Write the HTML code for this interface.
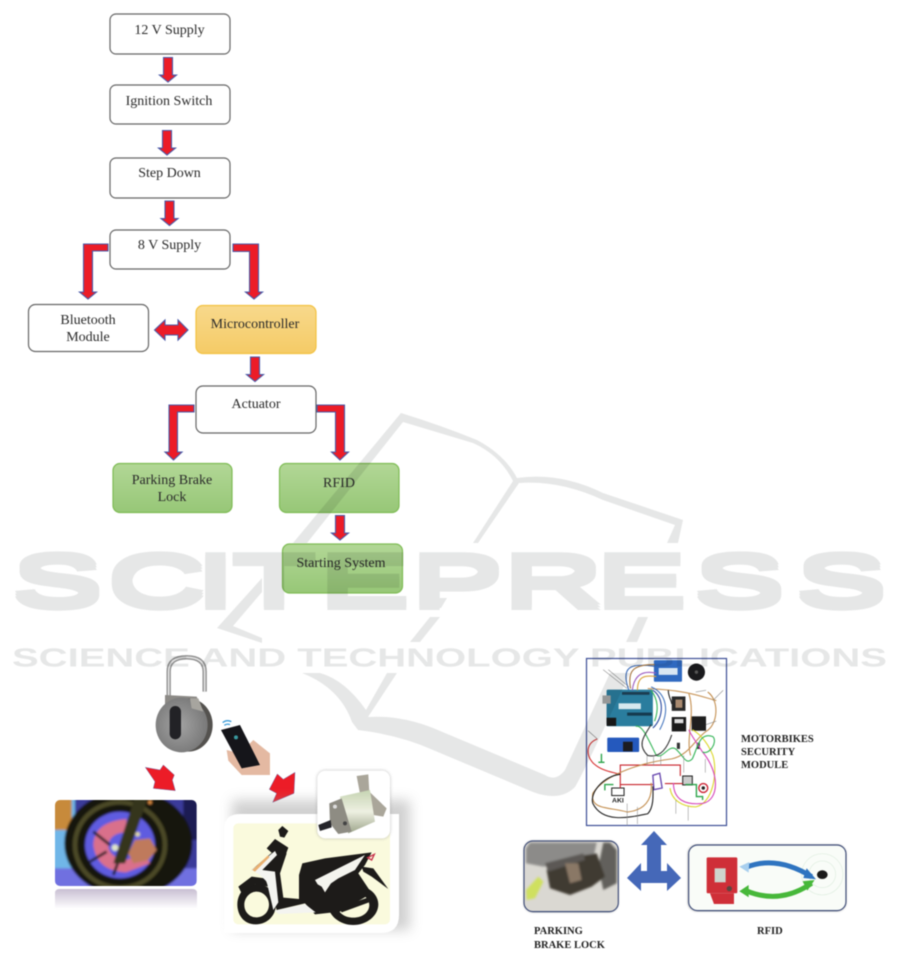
<!DOCTYPE html>
<html><head><meta charset="utf-8"><style>
html,body{margin:0;padding:0;background:#fff}
svg{display:block;filter:blur(.4px)}
.t{font-family:"Liberation Serif",serif;font-size:14px;fill:#2a2a2a;text-anchor:middle}
.b{font-family:"Liberation Serif",serif;font-size:10.5px;font-weight:bold;fill:#222}
.a{fill:#ec1c27;stroke:#4a5aa8;stroke-width:1.1}
.w{fill:none;stroke-width:3.2}
.wm{font-family:"Liberation Sans",sans-serif;font-weight:bold;fill:#e6e7e7}
</style></head><body>
<svg xmlns="http://www.w3.org/2000/svg" width="901" height="959" viewBox="0 0 901 959">
<defs>
<linearGradient id="og" x1="0" y1="0" x2="0" y2="1"><stop offset="0" stop-color="#f8d98c"/><stop offset="1" stop-color="#f5cb66"/></linearGradient>
<linearGradient id="gg" x1="0" y1="0" x2="0" y2="1"><stop offset="0" stop-color="#b2d796"/><stop offset="1" stop-color="#97c777"/></linearGradient>
<linearGradient id="ref" x1="0" y1="0" x2="0" y2="1"><stop offset="0" stop-color="#b6a9c4"/><stop offset="1" stop-color="#fff"/></linearGradient>
<radialGradient id="lk" cx=".45" cy=".5" r=".6"><stop offset="0" stop-color="#a3a3a3"/><stop offset="1" stop-color="#757575"/></radialGradient>
<linearGradient id="cyl" x1="0" y1="0" x2="0" y2="1"><stop offset="0" stop-color="#c6d4b2"/><stop offset=".5" stop-color="#eef0e2"/><stop offset="1" stop-color="#9da58b"/></linearGradient>
<filter id="sh" x="-15%" y="-15%" width="130%" height="130%"><feGaussianBlur stdDeviation="6"/></filter>
<filter id="s1"><feGaussianBlur stdDeviation="1"/></filter>
<filter id="s2"><feGaussianBlur stdDeviation="3"/></filter>
<filter id="s3"><feGaussianBlur stdDeviation="5"/></filter>
<clipPath id="wc"><rect x="15" y="15" width="425" height="258" rx="15"/></clipPath>
</defs>

<!-- flowchart boxes -->
<g stroke="#666" stroke-width="1.2" fill="#fff">
<rect x="110" y="14" width="120" height="40" rx="6"/>
<rect x="110" y="85" width="120" height="39" rx="6"/>
<rect x="110" y="158" width="120" height="40" rx="6"/>
<rect x="110" y="230" width="120" height="39" rx="6"/>
<rect x="28.500" y="304.500" width="120" height="47" rx="7"/>
<rect x="196" y="386" width="120" height="47" rx="7"/>
</g>
<rect x="196" y="305.500" width="120" height="48" rx="7" fill="url(#og)" stroke="#f3c242" stroke-width="1.200"/>
<g fill="url(#gg)" stroke="#7fbc55" stroke-width="1.200">
<rect x="113" y="463.500" width="119" height="49" rx="7"/>
<rect x="279.500" y="463.500" width="119.500" height="49" rx="7"/>
<rect x="282.500" y="544" width="120" height="49" rx="7"/>
</g>

<!-- arrows -->
<polygon class="a" points="163.500,57.500 172.500,57.500 172.500,75 176.500,75 168,82 159.500,75 163.500,75"/>
<polygon class="a" points="162.500,130.500 171.500,130.500 171.500,148 175.500,148 167,155 158.500,148 162.500,148"/>
<polygon class="a" points="165,201 174,201 174,218.500 178,218.500 169.500,225.500 161,218.500 165,218.500"/>
<polygon class="a" points="250.500,357 259.500,357 259.500,374.500 263.500,374.500 255,381.500 246.500,374.500 250.500,374.500"/>
<polygon class="a" points="335.500,515.500 344.500,515.500 344.500,533 348.500,533 340,540 331.500,533 335.500,533"/>
<polygon class="a" points="108,244 83.500,244 83.500,292 79.500,292 88,299 96.500,292 92.500,292 92.500,251 108,251"/>
<polygon class="a" points="233,244 258.500,244 258.500,292 262.500,292 254,299 245.500,292 249.500,292 249.500,251.500 233,251.500"/>
<polygon class="a" points="194,405 169,405 169,452 165,452 173.500,460 182,452 177.500,452 177.500,412 194,412"/>
<polygon class="a" points="317,405 344.500,405 344.500,452 348.500,452 340,460 331.500,452 335.500,452 335.500,412 317,412"/>
<polygon class="a" points="154.500,330 165,320 165,325 178,325 178,320 188,330 178,340 178,335 165,335 165,340"/>

<!-- flowchart text -->
<g class="t">
<text x="169.500" y="34">12 V Supply</text>
<text x="169" y="105">Ignition Switch</text>
<text x="169.500" y="177">Step Down</text>
<text x="169.500" y="249">8 V Supply</text>
<text x="88" y="324">Bluetooth</text>
<text x="88" y="341">Module</text>
<text x="255" y="328">Microcontroller</text>
<text x="256" y="408">Actuator</text>
<text x="172" y="484">Parking Brake</text>
<text x="172" y="501">Lock</text>
<text x="339" y="487">RFID</text>
<text x="341" y="567">Starting System</text>
</g>

<!-- padlock, phone, red arrows -->
<g transform="translate(40,640) scale(.3333)">
<path d="M386,175 V95 Q386,52 440,52 Q494,52 494,95 V155" fill="none" stroke="#8f8f8f" stroke-width="13"/>
<path d="M386,175 V95 Q386,52 440,52 Q494,52 494,95 V155" fill="none" stroke="#e2e2e2" stroke-width="5"/>
<path d="M375,165 L470,170 L490,215 L375,200 Z" fill="#8c8a86"/>
<ellipse cx="445" cy="255" rx="73" ry="80" fill="#54524f"/>
<ellipse cx="425" cy="255" rx="78" ry="82" fill="url(#lk)"/>
<rect x="389" y="198" width="34" height="100" rx="17" fill="#222226"/>
<path d="M450,175 H475 L490,215 L455,205 Z" fill="#a7a59f"/>
<path d="M548,248 q12,-10 26,-3 M553,256 q8,-6 17,-2" fill="none" stroke="#3a9bd8" stroke-width="4"/>
<path d="M640,300 L690,340 V405 H605 L565,362 L560,330 L600,340 Z" fill="#e4b9a2"/>
<polygon points="543,270 600,255 660,375 605,385" fill="#15151a"/>
<circle cx="588" cy="292" r="6" fill="#3a9aa0"/>
<polygon class="a" points="316,382 360,390 370,375 403,405 397,420 406,452 340,445 345,425" stroke-width="3"/>
<polygon class="a" points="765,397 762,460 698,487 710,460 688,448 712,402 730,418" stroke-width="3"/>
</g>

<!-- brake disc photo -->
<g transform="translate(50,795) scale(.3333)">
<g clip-path="url(#wc)">
<g filter="url(#s2)">
<rect x="5" y="5" width="445" height="278" fill="#3a3a9a"/>
<rect x="5" y="5" width="70" height="278" fill="#6fb6e8"/>
<rect x="5" y="5" width="60" height="100" fill="#c78a3a"/>
<rect x="5" y="220" width="445" height="63" fill="#6f6fe0"/>
<rect x="400" y="5" width="50" height="130" fill="#1d1b52"/>
<ellipse cx="235" cy="145" rx="192" ry="160" fill="#16140f"/>
<ellipse cx="210" cy="150" rx="135" ry="128" fill="none" stroke="#4c4a26" stroke-width="14"/>
<ellipse cx="210" cy="150" rx="105" ry="100" fill="#5e5ce0"/>
<path d="M230,72 Q132,80 130,150 Q140,228 228,232 L300,205 L285,180 L225,195 Q175,185 175,150 Q180,115 225,112 Z" fill="#d96f8b"/>
<path d="M130,110 L180,150 M120,200 L170,170 M190,240 L205,200" stroke="#1a1a1a" stroke-width="8"/>
<path d="M255,5 H295 L225,205 H190 Z" fill="#34341f"/>
<path d="M235,175 L255,135 L300,130 L320,165 L295,195 L250,205 Z" fill="#bf7a5c"/>
<circle cx="195" cy="158" r="10" fill="#dfe6c8"/><circle cx="263" cy="118" r="7" fill="#dfd9a8"/><circle cx="300" cy="22" r="6" fill="#d98a40"/>
</g>
</g>
</g>
<path d="M60,889 H192 Q197,889 197,893 V909 H55 V893 Q55,889 60,889Z" fill="url(#ref)" opacity=".75"/>

<!-- motorbike card -->
<path d="M232,800 H410 V930 H232 Z" fill="#999" opacity=".45" filter="url(#sh)"/>
<path d="M240,814 H399 V915 Q399,933 381,933 H224 V830 Q224,814 240,814 Z" fill="#fff"/>
<g transform="translate(225,815) scale(.3333)">
<rect x="25" y="25" width="470" height="303" rx="15" fill="#fafadd"/>
<g fill="#1d1b19">
<path d="M95,208 C135,208 153,238 153,268 C153,298 130,328 92,328 C55,328 37,298 37,268 C37,238 58,208 95,208 Z M95,230 C75,230 58,248 58,270 C58,292 75,307 93,307 C115,307 132,292 132,268 C132,248 115,230 95,230 Z" fill-rule="evenodd"/>
<path d="M385,210 C430,210 460,238 460,268 C460,302 425,330 385,330 C345,330 310,302 310,270 C310,240 345,210 385,210 Z M385,232 C358,232 337,250 337,270 C337,292 358,308 385,308 C412,308 433,292 433,270 C433,250 412,232 385,232 Z" fill-rule="evenodd"/>
<path d="M342,278 L428,248 L432,262 L350,292 Z"/>
<path d="M160,45 L172,33 L190,48 L178,68 L165,65 Z"/>
<path d="M150,72 L190,98 L180,125 L150,122 L125,100 Z"/>
<path d="M80,165 L150,105 L185,115 L165,175 L175,248 L222,252 L222,180 L232,145 L300,130 L440,112 L420,150 L400,175 L440,235 L345,290 L270,298 L240,265 L155,285 L130,200 L115,170 Z"/>
<path d="M410,155 L445,160 L490,222 L440,185 L415,170 Z"/>
<path d="M40,215 L80,185 L120,190 L130,215 L90,208 L50,235 Z"/>
</g>
<path d="M80,165 L150,108 L156,120 L112,165 L150,170 L160,262 L145,285 L125,200 L105,180 Z" fill="#f4f4f0"/>
<path d="M82,165 L128,122 L134,126 L90,170 Z" fill="#eab070"/>
<path d="M148,287 L240,267 L272,292 L162,297 Z" fill="#f4f4f0"/>
<path d="M270,195 L420,120 L390,165 L340,190 L318,205 L300,232 L290,215 L278,208 Z" fill="#f4f4ee"/>
<path d="M428,128 L448,118 L440,135 Z" fill="none" stroke="#c8324c" stroke-width="4"/>
</g>

<!-- starter motor tile -->
<g transform="translate(40,640) scale(.3333)">
<rect x="832" y="392" width="218" height="203" rx="24" fill="#888" opacity=".55" filter="url(#s3)"/>
<rect x="832" y="392" width="218" height="203" rx="24" fill="#fff"/>
<path d="M950,408 L985,403 L988,455 L1040,505 L1030,530 L1000,525 L960,460 Z" fill="#aaa69a"/>
<polygon points="900,470 990,450 1005,545 925,580" fill="url(#cyl)"/>
<path d="M868,490 L905,475 L935,575 L895,582 L870,550 Z" fill="#8e8c83"/>
<path d="M835,555 L872,540 L875,562 L840,573 Z" fill="#25252a"/>
<circle cx="885" cy="500" r="6" fill="#ddd"/><circle cx="915" cy="550" r="6" fill="#444"/>
</g>

<!-- right module frame -->
<rect x="586.500" y="658.500" width="140" height="167" fill="#fff" stroke="#3d4f96" stroke-width="1.200"/>
<g transform="translate(586,656) scale(.3429)">
<rect x="60" y="98" width="135" height="107" rx="4" fill="#2a7d9e"/>
<rect x="48" y="115" width="24" height="24" fill="#a8a8a8"/>
<rect x="60" y="180" width="28" height="24" fill="#181818"/>
<rect x="95" y="138" width="65" height="17" fill="#d6e8ee"/>
<rect x="120" y="165" width="72" height="9" fill="#153a4e"/>
<rect x="105" y="105" width="80" height="8" fill="#1b3c50"/>
<rect x="198" y="12" width="82" height="63" rx="3" fill="#2f69c0"/>
<rect x="212" y="35" width="55" height="20" fill="#d9e6f2"/>
<circle cx="322" cy="47" r="25" fill="#1a1a1d"/><circle cx="322" cy="47" r="5" fill="#555"/>
<rect x="62" y="238" width="93" height="42" rx="3" fill="#2559bd"/>
<rect x="108" y="250" width="28" height="28" fill="#1c1c22"/>
<rect x="250" y="118" width="40" height="42" fill="#2a2a2a"/><rect x="261" y="127" width="20" height="24" fill="#a98a70"/>
<rect x="250" y="178" width="42" height="42" fill="#1b1b1b"/><rect x="258" y="184" width="26" height="12" fill="#dedede"/>
<rect x="308" y="176" width="42" height="42" fill="#1e1e1e"/>
<rect x="265" y="253" width="9" height="18" fill="#333"/><rect x="323" y="253" width="9" height="18" fill="#333"/>
<rect x="75" y="385" width="36" height="22" fill="#fff" stroke="#222" stroke-width="3"/>
<rect x="282" y="350" width="28" height="26" fill="#ccc" stroke="#222" stroke-width="3"/>
<path d="M195,348 L215,342 L222,385 L198,390 Z" fill="#fff" stroke="#6a4ab0" stroke-width="4"/>
<circle cx="342" cy="385" r="13" fill="#fff" stroke="#c23" stroke-width="4"/><circle cx="342" cy="385" r="5" fill="#222"/>
<text x="76" y="427" font-family="Liberation Sans,sans-serif" font-weight="bold" font-size="20" fill="#222">AKI</text>
<g class="w">
<path d="M33,242 C-5,255 0,300 30,320 C50,335 80,340 100,345" stroke="#d63131"/>
<path d="M100,385 V318 H275 V350" stroke="#c8242c"/>
<path d="M100,375 H195 M230,372 H282" stroke="#c8242c"/>
<path d="M355,105 C390,130 385,200 350,220 C320,240 300,290 250,300 C170,310 60,340 20,400 C10,450 70,440 120,455 C170,450 195,420 190,370" stroke="#c49052"/>
<path d="M380,130 C340,120 300,100 180,95" stroke="#c9975c"/>
<path d="M300,110 C320,170 290,240 305,290" stroke="#c49052"/>
<path d="M100,345 C50,350 10,400 20,430 C50,490 130,470 180,460 C200,440 195,395 195,380" stroke="#222"/>
<path d="M245,385 C250,420 280,440 320,440 C370,430 385,340 370,290 C350,240 320,220 310,215" stroke="#dcd82c"/>
<path d="M255,370 C255,420 290,435 340,430 C390,420 390,340 340,280 C320,250 300,220 300,215" stroke="#d545b9"/>
<path d="M145,205 C165,200 180,240 205,290 C225,300 240,260 260,270 C285,290 290,320 310,300 C325,270 330,220 370,235 C385,250 360,290 340,280" stroke="#35b558"/>
<path d="M45,285 V310 M36,310 H54 M80,375 H55 V392 M290,375 H322 V410 H340 V420" stroke="#2da44a" stroke-width="4"/>
<path d="M190,200 C165,240 150,260 180,290 C220,300 240,260 250,230" stroke="#333"/>
<path d="M125,100 C100,30 130,20 200,30" stroke="#3a6ab8"/>
<path d="M130,95 C120,40 140,25 200,25" stroke="#a5743c"/>
<path d="M135,100 C140,60 160,40 205,50" stroke="#9a5ac0"/>
<path d="M150,100 C150,60 170,55 205,60" stroke="#d9a440"/>
<path d="M190,100 C205,120 215,150 200,190" stroke="#35b558"/>
<path d="M195,100 C228,120 228,180 195,210" stroke="#2a4aa0"/>
<path d="M190,90 C235,110 245,160 215,215" stroke="#4a7ac0"/>
<path d="M240,100 C240,120 250,130 250,140" stroke="#222"/>
<path d="M50,40 L120,95 M65,40 L125,90 M400,100 L370,130 M350,100 L320,105 M6,218 L33,242 M380,190 L350,200" stroke="#777" stroke-width="1.500"/>
<path d="M178,290 V320 M197,290 V320 M218,290 V320 M285,290 V340 M348,300 V340 M120,430 V495 M150,440 V490 M262,420 V460 M298,438 V480" stroke="#888" stroke-width="1.500"/>
</g>
</g>

<!-- blue four-way arrow -->
<polygon points="654,831 667,845 661,845 661,871 667,871 667,863 681,878 667,891 667,883 641,883 641,891 627,878 641,863 641,871 647,871 647,845 641,845" fill="#4568b8"/>

<!-- parking brake photo -->
<rect x="524" y="841" width="94" height="71" rx="9" fill="#555" opacity=".6" filter="url(#s1)"/>
<g transform="translate(510,650) scale(.3333)">
<rect x="42" y="573" width="283" height="212" rx="27" fill="#dad8d2" stroke="#3f4d78" stroke-width="3.500"/>
<g filter="url(#s2)">
<path d="M60,578 H260 L250,625 L160,640 L100,650 L48,640 L48,595 Z" fill="#8c8b89"/>
<path d="M280,578 H300 L320,600 V700 L280,720 L265,650 Z" fill="#62605c"/>
<path d="M110,660 L165,625 L260,610 L285,680 L245,710 L180,735 L120,715 Z" fill="#403a33"/>
<path d="M105,640 L220,610 L225,630 L115,665 Z" fill="#5c5955"/>
<path d="M165,640 L205,640 L215,690 L180,700 Z" fill="#8a7866"/>
<path d="M48,720 L85,680 L100,695 L75,745 L50,750 Z" fill="#cfe05e"/>
</g>
</g>

<!-- RFID photo -->
<rect x="688" y="845" width="158" height="66" rx="9" fill="#555" opacity=".6" filter="url(#s1)"/>
<g transform="translate(510,650) scale(.3333)">
<rect x="536" y="585" width="472" height="197" rx="27" fill="#f9fcf8" stroke="#3f4d78" stroke-width="3.500"/>
<g fill="none" stroke="#dfeee0" stroke-width="2">
<circle cx="937" cy="673" r="40"/><circle cx="937" cy="673" r="62"/>
</g>
<rect x="590" y="622" width="92" height="108" rx="4" fill="#cf2f38"/>
<polygon points="600,730 672,730 672,762 612,762" fill="#cf2f38"/>
<rect x="614" y="655" width="33" height="42" fill="#cfd4cd"/>
<circle cx="658" cy="716" r="8" fill="#5b4640"/>
<path d="M708,652 Q800,615 905,680" fill="none" stroke="#2f74c0" stroke-width="15"/>
<polygon points="688,650 718,636 716,668" fill="#a8cfee"/>
<polygon points="918,688 890,655 880,684" fill="#2f74c0"/>
<path d="M708,722 Q810,765 905,700" fill="none" stroke="#47b83a" stroke-width="15"/>
<polygon points="688,724 716,705 716,742" fill="#47b83a"/>
<polygon points="914,690 878,694 892,722" fill="#47b83a"/>
<ellipse cx="937" cy="674" rx="16" ry="13" fill="#1a1a1a"/>
</g>

<!-- right labels -->
<g class="b">
<text x="741" y="742">MOTORBIKES</text>
<text x="741" y="755">SECURITY</text>
<text x="741" y="768">MODULE</text>
<text x="534" y="934">PARKING</text>
<text x="534" y="948">BRAKE LOCK</text>
<text x="757" y="934">RFID</text>
</g>

<!-- watermark -->
<g style="mix-blend-mode:multiply">
<g fill="#e6e7e7">
<path d="M401,413 Q440,425 477,440 Q505,455 517,478 Q560,472 603,493 L683,520 L678,543 L667,543 L675,525 L603,500 Q560,480 519,483 L478,543 L473,543 L513,481 Q500,455 473,443 L403,422 L307,543 L293,543 Z"/>
<path d="M262,578 L217,628 L262,643 L262,638 L233,626 L262,592 Z"/>
<path d="M447,598 L437,598 L433,608 L441,608 Z"/>
<path d="M430,617 L440,617 L420,642 L410,642 Z"/>
<path d="M638,617 L648,617 L637,642 L626,642 Z"/>
<path d="M302,673 Q340,688 352,722 L358,730 Q400,735 433,750 L533,792 Q560,802 575,787 Q585,770 630,673 L610,673 L565,770 Q556,782 545,775 L433,728 Q400,715 368,717 L397,673 L387,673 L366,710 Q345,680 320,673 Z"/>
</g>
<g class="wm" font-size="76" transform="scale(1.85,1)">
<text x="5.95 57.3 105.9 124.9 171.9 221.6 271.4 321.6 374.6 429.7" y="610">SCITEPRESS</text>
<text x="5.95 57.3 105.9 124.9 171.9 221.6 271.4 321.6 374.6 429.7" y="607.200" aria-hidden="true">SCITEPRESS</text>
<text x="5.95 57.3 105.9 124.9 171.9 221.6 271.4 321.6 374.6 429.7" y="604.500" aria-hidden="true">SCITEPRESS</text>
</g>
<text class="wm" x="12" y="666.500" font-size="26" textLength="875" lengthAdjust="spacingAndGlyphs">SCIENCE AND TECHNOLOGY PUBLICATIONS</text>
</g>
</svg>
</body></html>
